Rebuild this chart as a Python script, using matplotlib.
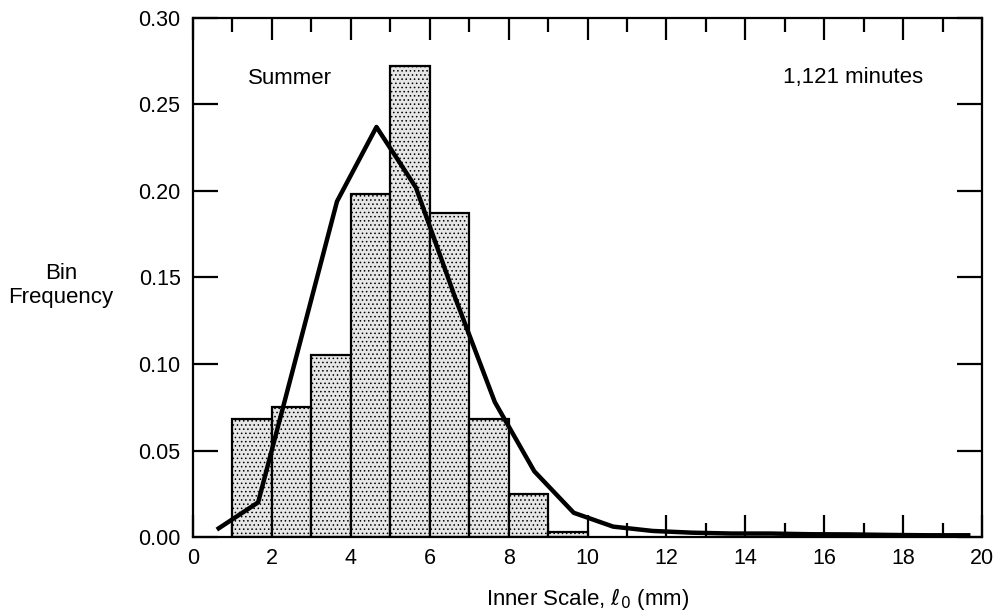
import numpy as np
import matplotlib
matplotlib.use("Agg")
import matplotlib.pyplot as plt
from matplotlib.ticker import MultipleLocator

plt.rcParams['font.family'] = ['Liberation Sans', 'DejaVu Sans']
plt.rcParams['hatch.linewidth'] = 0.6
plt.rcParams['hatch.color'] = '#8a8a8a'

# histogram bins (left edge, width 1 mm) and bin frequencies
bin_left = [1, 2, 3, 4, 5, 6, 7, 8, 9]
bin_freq = [0.068, 0.075, 0.105, 0.198, 0.272, 0.187, 0.068, 0.025, 0.003]

# fitted curve
curve_x = [0.65, 1.65, 2.65, 3.65, 4.65, 5.65, 6.65, 7.65, 8.65, 9.65,
           10.65, 11.65, 12.65, 13.65, 14.65, 15.65, 16.65, 17.65, 18.65, 19.65]
curve_y = [0.005, 0.020, 0.107, 0.194, 0.237, 0.202, 0.138, 0.078, 0.038, 0.014,
           0.006, 0.0035, 0.0025, 0.002, 0.002, 0.0016, 0.0015, 0.0012, 0.001, 0.001]

fig = plt.figure(figsize=(9.97, 6.14), dpi=100)
ax = fig.add_axes([0.1936, 0.1254, 0.7914, 0.8453])

ax.bar(bin_left, bin_freq, width=1.0, align='edge', facecolor='#e6e6e6',
       edgecolor='black', linewidth=1.6, hatch='....', zorder=2)
ax.plot(curve_x, curve_y, color='black', linewidth=3.2, solid_joinstyle='round', zorder=3)

ax.set_xlim(0, 20)
ax.set_ylim(0, 0.30)
ax.xaxis.set_major_locator(MultipleLocator(2))
ax.xaxis.set_minor_locator(MultipleLocator(1))
ax.yaxis.set_major_locator(MultipleLocator(0.05))
ax.yaxis.set_major_formatter(plt.FormatStrFormatter('%.2f'))

ax.tick_params(axis='both', which='major', direction='in', top=True, right=True,
               length=16, width=1.6, labelsize=15.5)
ax.tick_params(axis='x', which='minor', direction='in', top=True,
               length=10, width=1.6)
ax.tick_params(axis='x', which='major', pad=8)
ax.tick_params(axis='y', which='major', pad=9, length=18)
for s in ax.spines.values():
    s.set_linewidth(1.6)

ax.set_xlabel(r'Inner Scale, $\ell_0$ (mm)', fontsize=16, labelpad=12)
fig.text(0.061, 0.535, 'Bin\nFrequency', ha='center', va='center',
         fontsize=16, linespacing=1.15)

ax.text(0.07, 0.883, 'Summer', transform=ax.transAxes, fontsize=16,
        ha='left', va='center')
ax.text(0.925, 0.885, '1,121 minutes', transform=ax.transAxes, fontsize=16,
        ha='right', va='center')

fig.savefig('out.png', dpi=100)
